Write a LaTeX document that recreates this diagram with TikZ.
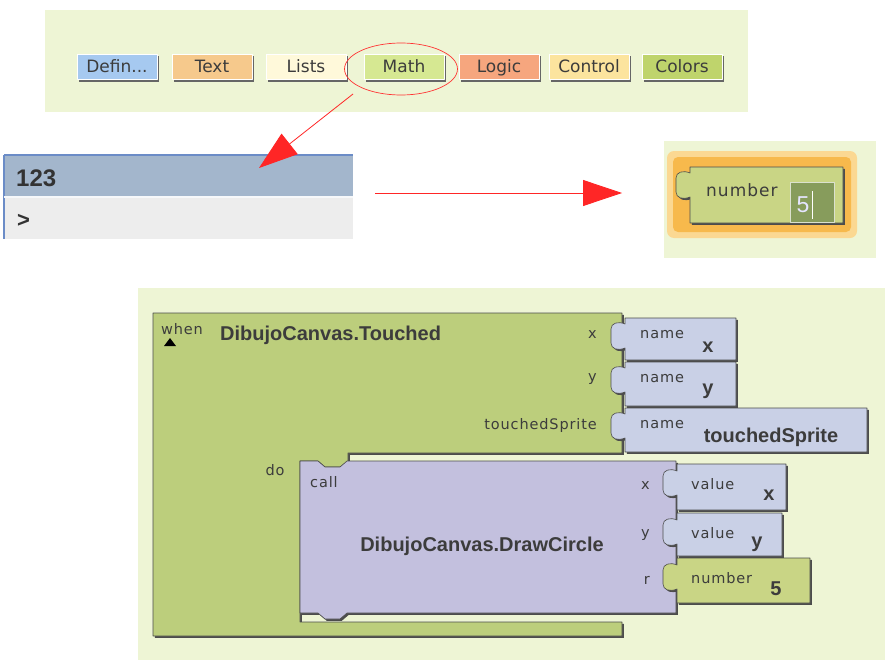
\documentclass[tikz,border=0pt]{standalone}
\usepackage{fontspec}
\setmainfont{Liberation Sans}
\newfontfamily\lblfont{DejaVu Sans}[LetterSpace=6]
\newfontfamily\btnfont{DejaVu Sans}
\usetikzlibrary{arrows.meta,shapes.geometric,shadows}
\definecolor{panelbg}{HTML}{EEF5D5}
\definecolor{cdefin}{HTML}{A6C9F0}
\definecolor{ctext}{HTML}{F6C98C}
\definecolor{clists}{HTML}{FFF9DA}
\definecolor{cmath}{HTML}{D6E892}
\definecolor{clogic}{HTML}{F6A67E}
\definecolor{ccontrol}{HTML}{FCE49E}
\definecolor{ccolors}{HTML}{BFD46C}
\definecolor{hdrblue}{HTML}{A3B6CC}
\definecolor{hdrline}{HTML}{6B8CC7}
\definecolor{bodygrey}{HTML}{EDEDED}
\definecolor{glowout}{HTML}{FBD892}
\definecolor{glowin}{HTML}{F7B94C}
\definecolor{numgreen}{HTML}{C9D585}
\definecolor{inputgreen}{HTML}{879C5C}
\definecolor{evgreen}{HTML}{BCCE7C}
\definecolor{calllav}{HTML}{C3C0DE}
\definecolor{nameblue}{HTML}{C9D0E6}
\definecolor{ink}{HTML}{3C3C3C}
\begin{document}
\begin{tikzpicture}[x=1pt, y=-1pt, line join=round,
  btn/.style={draw=white, line width=1pt, fill=#1, minimum width=80pt, minimum height=25pt,
    inner sep=0pt, text height=13pt, text depth=1pt, text=ink, font=\btnfont\fontsize{17}{17}\selectfont,
    drop shadow={shadow xshift=2pt, shadow yshift=-2pt, fill=black!60, opacity=1}},
  blk/.style={fill=#1, draw=black!70, line width=.6pt,
    drop shadow={shadow xshift=1.8pt, shadow yshift=-1.8pt, fill=black!70, opacity=1}},
  lbl/.style={inner sep=0pt, text=ink, font=\lblfont\fontsize{14.5}{15}\selectfont},
  big/.style={inner sep=0pt, text=ink, font=\fontsize{20}{20}\selectfont\bfseries},
  redarrow/.style={draw=red!85, line width=.8pt, -{Triangle[length=39pt,width=26pt]}}]
\useasboundingbox (0,0) rectangle (888,661);
\fill[white] (0,0) rectangle (888,661);

% palette
\fill[panelbg] (45,10) rectangle (748,112);
\foreach \nm/\txt/\cx/\col in {defin/Defin.{}.{}./117/cdefin, text/Text/212/ctext, lists/Lists/306/clists,
    math/Math/404/cmath, logic/Logic/499/clogic, control/Control/589/ccontrol, colors/Colors/682/ccolors}
  \node[btn=\col] (b\nm) at (\cx,67) {\txt};
\node[draw=red!80, line width=.7pt, ellipse, minimum width=113pt, minimum height=52pt] (mathring) at (401,69) {};

% math drawer
\fill[hdrblue] (4,155) rectangle (353,197);
\fill[bodygrey] (4,197) rectangle (353,239);
\draw[hdrline, line width=2pt] (4,155) -- (353,155);
\draw[hdrline, line width=1.5pt] (4,155) -- (4,239);
\draw[white!90!hdrblue, line width=1.5pt] (4,197) -- (353,197);
\node[anchor=west, inner sep=0pt, text=black!80, font=\fontsize{24}{24}\selectfont\bfseries] (numhdr) at (16,178) {123};
\node[anchor=west, inner sep=0pt, text=black!80, font=\fontsize{22}{22}\selectfont\bfseries] (cmpop) at (17,221) {>};

% number block
\fill[panelbg] (664,141) rectangle (876,258);
\fill[glowout, rounded corners=7pt] (667,151) rectangle (857,238);
\fill[glowin, rounded corners=5pt] (673,157) rectangle (851,232);
\draw[blk=numgreen] (690,167) -- (843,167) -- (843,223) -- (690,223) -- (690,197)
  .. controls (683,200) and (676,198) .. (676,192) -- (676,178)
  .. controls (676,172) and (683,170) .. (690,173) -- cycle;
\node[anchor=north west, draw=white!70!inputgreen, line width=1pt, fill=inputgreen,
  minimum width=44pt, minimum height=40pt] (numbox) at (790,182) {};
\node[lbl, anchor=west, font=\lblfont\fontsize{17}{17}\selectfont] (numword) at (706,190) {number};
\node[inner sep=0pt, text=blue!10, font=\fontsize{23}{23}\selectfont] (numfive) at (803,205) {5};
\draw[white, line width=1pt] (812,191) -- (812,219);

% arrows
\coordinate (ringfoot) at (353,94);
\coordinate (drawerhit) at (259,168);
\coordinate (drawerside) at (375,193);
\coordinate (blockside) at (622,193);
\draw[redarrow] (ringfoot) -- (drawerhit);
\draw[redarrow] (drawerside) -- (blockside);

% event handler
\fill[panelbg] (138,288) rectangle (885,660);
\draw[blk=evgreen] (153,313) -- (622,313) -- (622,453) -- (348,453) -- (348,461) -- (340,467)
  -- (325,467) -- (318,461) -- (300,461) -- (300,622) -- (622,622) -- (622,636) -- (153,636) -- cycle;
\fill (164,346) -- (176,346) -- (170,338) -- cycle;
\node[lbl] (whentag) at (182,329) {when};
\node[big, anchor=west] (evtitle) at (220,335) {DibujoCanvas.Touched};
\node[lbl] (dotag) at (275,470) {do};
\foreach \nm/\t/\b/\r/\lab/\lx in {x/318/360/736/x/708, y/362/406/736/y/708, ts/408/452/867/touchedSprite/771} {
  \draw[blk=nameblue] (625,\t) -- (\r,\t) -- (\r,\b) -- (625,\b) -- (625,{\t+30})
    .. controls (618,{\t+33}) and (611,{\t+31}) .. (611,{\t+25}) -- (611,{\t+11})
    .. controls (611,{\t+5}) and (618,{\t+3}) .. (625,{\t+6}) -- cycle;
  \node[lbl, anchor=west] (nm\nm) at (640,{\t+17}) {name};
  \node[big] (nv\nm) at (\lx,{\t+29}) {\lab};
  \node[lbl, anchor=east] (ev\nm) at (597,{\t+17}) {\lab};
}

% call block
\draw[blk=calllav] (300,461) -- (318,461) -- (325,467) -- (340,467) -- (347,461) -- (676,461)
  -- (676,613) -- (347,613) -- (340,619) -- (325,619) -- (318,613) -- (300,613) -- cycle;
\node[lbl, anchor=west] (calltag) at (310,482) {call};
\node[big] (calltitle) at (482,546) {DibujoCanvas.DrawCircle};
\foreach \nm/\t/\b/\r/\word/\lab/\lx/\col in {x/464/510/786/value/x/769/nameblue,
    y/513/556/782/value/y/757/nameblue, r/558/603/810/number/5/776/numgreen} {
  \draw[blk=\col] (677,\t) -- (\r,\t) -- (\r,\b) -- (677,\b) -- (677,{\t+31})
    .. controls (670,{\t+34}) and (663,{\t+32}) .. (663,{\t+26}) -- (663,{\t+12})
    .. controls (663,{\t+6}) and (670,{\t+4}) .. (677,{\t+7}) -- cycle;
  \node[lbl, anchor=west] (cw\nm) at (691,{\t+20}) {\word};
  \node[big] (cv\nm) at (\lx,{\t+31}) {\lab};
  \node[lbl, anchor=east] (ca\nm) at (650,{\t+22}) {\nm};
}
\end{tikzpicture}
\end{document}
